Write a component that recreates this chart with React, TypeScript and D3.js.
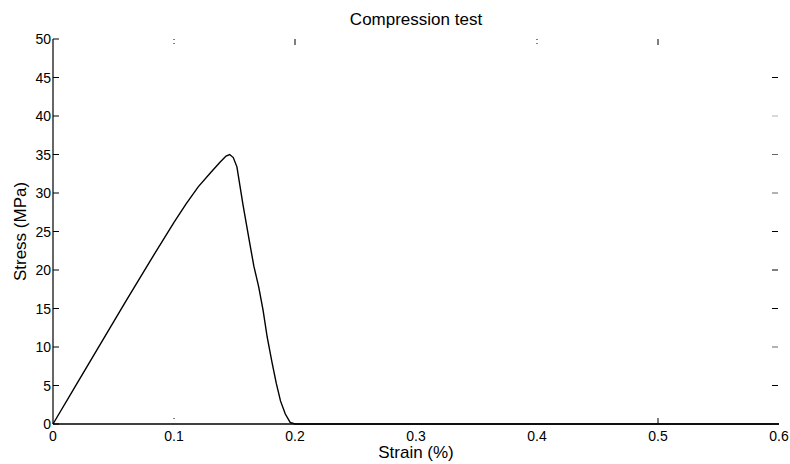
import React from "react";
import * as d3 from "d3";

const strain = [0, 0.02, 0.04, 0.06, 0.08, 0.1, 0.11, 0.12, 0.13, 0.138, 0.143, 0.146, 0.149, 0.152, 0.157, 0.162, 0.166, 0.17, 0.1736, 0.177, 0.181, 0.1845, 0.188, 0.192, 0.196, 0.2, 0.6];
const stress = [0, 5.3, 10.6, 15.9, 21.1, 26.2, 28.6, 30.8, 32.6, 34.0, 34.8, 35.0, 34.6, 33.4, 28.5, 24.0, 20.5, 17.8, 14.8, 11.3, 8.0, 5.3, 3.0, 1.3, 0.2, 0, 0];
const xTicks = [0, 0.1, 0.2, 0.3, 0.4, 0.5, 0.6];
const yTicks = [0, 5, 10, 15, 20, 25, 30, 35, 40, 45, 50];
const title = "Compression test";
const xLabel = "Strain (%)";
const yLabel = "Stress (MPa)";

export default function App() {
  const W = 790, H = 464;
  const m = { left: 53, right: 779, top: 39, bottom: 424 };
  const x = d3.scaleLinear().domain([0, 0.6]).range([m.left, m.right]);
  const y = d3.scaleLinear().domain([0, 50]).range([m.bottom, m.top]);
  const line = d3.line<number>().x((_, i) => x(strain[i])).y((d) => y(d));
  const font = "Liberation Sans, Arial, Helvetica, sans-serif";
  const tl = 6;
  return (
    <svg width={W} height={H} style={{ position: "absolute", left: 0, top: 0, background: "#fff" }} fontFamily={font}>
      <rect x={0} y={0} width={W} height={H} fill="#fff" />
      <text x={(m.left + m.right) / 2} y={25} textAnchor="middle" fontSize={17}>{title}</text>
      <text x={(m.left + m.right) / 2} y={458} textAnchor="middle" fontSize={17}>{xLabel}</text>
      <text transform={`translate(26,${(m.top + m.bottom) / 2}) rotate(-90)`} textAnchor="middle" fontSize={17}>{yLabel}</text>
      {/* axes */}
      <line x1={m.left} x2={m.left} y1={m.top} y2={m.bottom} stroke="#000" strokeWidth={1.2} />
      <line x1={m.left} x2={m.right} y1={m.bottom} y2={m.bottom} stroke="#000" strokeWidth={1.6} />
      {yTicks.map((t) => (
        <g key={"y" + t}>
          <line x1={m.left} x2={m.left + tl} y1={y(t)} y2={y(t)} stroke="#000" />
          {t > 0 && t < 50 && (
            <line x1={m.right - 7} x2={m.right - 1} y1={y(t)} y2={y(t)} stroke={t === 40 || t === 35 || t === 10 || t === 30 ? "#666" : "#000"} strokeWidth={t === 40 ? 0.5 : 1} />
          )}
          <text x={m.left - 2} y={y(t) + 5} textAnchor="end" fontSize={14}>{t}</text>
        </g>
      ))}
      {xTicks.map((t) => (
        <g key={"x" + t}>
          {(t === 0.2 || t === 0.5) && (
            <line x1={x(t)} x2={x(t)} y1={m.top} y2={m.top + tl} stroke="#000" />
          )}
          {(t === 0.1 || t === 0.4) && (
            <line x1={x(t)} x2={x(t)} y1={m.top} y2={m.top + tl} stroke="#000" strokeDasharray="1,3" />
          )}
          {t === 0.5 && <line x1={x(t)} x2={x(t)} y1={m.bottom} y2={m.bottom - tl} stroke="#000" />}
          {t === 0.1 && <line x1={x(t)} x2={x(t)} y1={m.bottom - 6} y2={m.bottom - 5} stroke="#000" />}
          <text x={x(t)} y={441} textAnchor="middle" fontSize={14}>{t === 0 ? "0" : String(t)}</text>
        </g>
      ))}
      <path d={line(stress) || ""} fill="none" stroke="#000" strokeWidth={1.4} />
    </svg>
  );
}
